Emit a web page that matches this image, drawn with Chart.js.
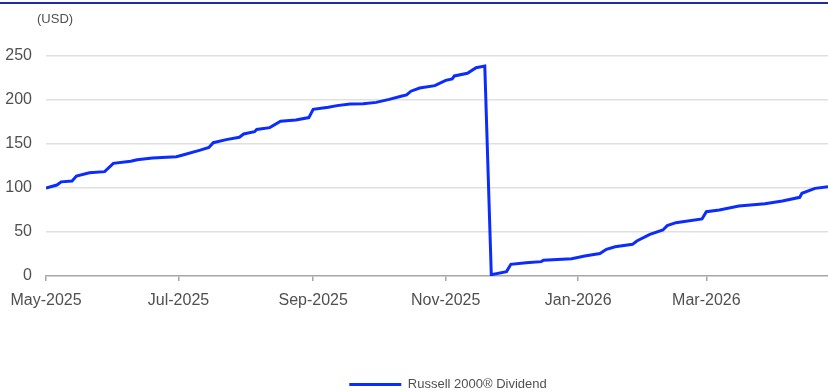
<!DOCTYPE html>
<html>
<head>
<meta charset="utf-8">
<script src="https://cdn.jsdelivr.net/npm/chart.js@4/dist/chart.umd.min.js"></script>
<style>
  html, body { margin: 0; padding: 0; background: #fff; }
  #wrap { position: relative; width: 828px; height: 392px; }
  #topRule { position: absolute; left: 0; top: 2px; width: 828px; height: 2px; background: #1e2ca8; }
</style>
</head>
<body>
<div id="wrap">
  <canvas id="chart" width="828" height="392"></canvas>
  <div id="topRule"></div>
</div>
<script>
// ── Russell 2000® Dividend — valeur en USD ──

const SERIES_NAME = 'Russell 2000® Dividend';

const DATES = [
  '2025-05-01', '2025-05-06', '2025-05-08', '2025-05-13', '2025-05-15', '2025-05-21',
  '2025-05-28', '2025-06-01', '2025-06-09', '2025-06-12', '2025-06-19', '2025-06-30',
  '2025-07-03', '2025-07-11', '2025-07-15', '2025-07-17', '2025-07-23', '2025-07-29',
  '2025-07-31', '2025-08-05', '2025-08-06', '2025-08-12', '2025-08-17', '2025-08-24',
  '2025-08-30', '2025-09-01', '2025-09-08', '2025-09-12', '2025-09-18', '2025-09-24',
  '2025-09-30', '2025-10-06', '2025-10-11', '2025-10-14', '2025-10-16', '2025-10-20',
  '2025-10-27', '2025-11-01', '2025-11-04', '2025-11-05', '2025-11-11', '2025-11-15',
  '2025-11-19', '2025-11-22', '2025-11-29', '2025-12-01', '2025-12-08', '2025-12-15',
  '2025-12-16', '2025-12-29', '2026-01-04', '2026-01-11', '2026-01-14', '2026-01-18',
  '2026-01-26', '2026-01-28', '2026-02-03', '2026-02-09', '2026-02-11', '2026-02-15',
  '2026-02-27', '2026-03-01', '2026-03-07', '2026-03-16', '2026-03-28', '2026-04-05',
  '2026-04-13', '2026-04-14', '2026-04-20', '2026-04-26'
];

const VALUES = [
  100.0, 103.4, 107.0, 108.0, 113.6, 117.4,
  118.6, 128.0, 130.3, 132.0, 134.0, 135.6,
  137.5, 143.0, 146.0, 151.5, 155.0, 157.6,
  161.4, 164.0, 166.6, 168.6, 175.8, 177.3,
  180.0, 189.4, 191.7, 193.6, 195.5, 195.8,
  197.3, 200.7, 204.0, 205.7, 210.0, 213.6,
  216.3, 222.3, 223.9, 227.3, 230.3, 236.7,
  238.6, 1.5, 5.0, 13.3, 15.0, 16.3,
  17.8, 19.7, 22.7, 25.5, 30.3, 33.3,
  36.0, 39.8, 47.3, 52.3, 57.2, 60.6,
  64.8, 73.1, 75.0, 79.5, 82.2, 85.2,
  89.4, 94.0, 99.6, 101.5
];

const X_START = '2025-05-01';
const X_END   = '2026-04-26';
const TICK_DATES  = ['2025-05-01', '2025-07-01', '2025-09-01', '2025-11-01', '2026-01-01', '2026-03-01'];
const TICK_LABELS = ['May-2025', 'Jul-2025', 'Sep-2025', 'Nov-2025', 'Jan-2026', 'Mar-2026'];
const Y_TICKS = [0, 50, 100, 150, 200, 250];

const UNIT_LABEL = '(USD)';

// ─── helpers ───
const DAY = 86400000;
function dayOf(s) {
  const [y, m, d] = s.split('-').map(Number);
  const [y0, m0, d0] = X_START.split('-').map(Number);
  return Math.round((Date.UTC(y, m - 1, d) - Date.UTC(y0, m0 - 1, d0)) / DAY);
}

const LINE  = '#0a2cff';
const TEXT  = '#505050';
const GRID  = '#e0e0e0';
const AXIS  = '#a6a6a6';
const FONT  = "'Liberation Sans', Arial, sans-serif";

const PLOT_TOP    = 56;
const PLOT_BOTTOM = 276;
const PLOT_LEFT   = 46;
const LAYOUT_BOTTOM = -9;
const LEGEND_SHIFT  = 34;

// unit label above the y axis
const unitLabel = {
  id: 'unitLabel',
  afterDraw(chart) {
    const c = chart.ctx;
    c.save();
    c.font = '13px ' + FONT;
    c.fillStyle = TEXT;
    c.textAlign = 'left';
    c.textBaseline = 'middle';
    c.fillText(UNIT_LABEL, 37, 19);
    c.restore();
  }
};

// nudge the legend a bit right, like the original
const legendShift = {
  id: 'legendShift',
  afterLayout(chart) {
    const l = chart.legend;
    if (!l) return;
    l.left += LEGEND_SHIFT;
    l.right += LEGEND_SHIFT;
  }
};

const points = DATES.map((d, i) => ({ x: dayOf(d), y: VALUES[i] }));
const tickDays = TICK_DATES.map(dayOf);

new Chart(document.getElementById('chart'), {
  type: 'line',
  data: {
    datasets: [{
      label: SERIES_NAME,
      data: points,
      borderColor: LINE,
      backgroundColor: LINE,
      borderWidth: 3,
      pointRadius: 0,
      tension: 0,
      fill: false,
    }]
  },
  options: {
    responsive: false,
    animation: false,
    layout: { padding: { top: PLOT_TOP, right: 0, bottom: LAYOUT_BOTTOM, left: 0 } },
    plugins: {
      legend: {
        position: 'bottom',
        labels: {
          usePointStyle: true,
          pointStyle: 'line',
          pointStyleWidth: 52,
          padding: 0,
          color: TEXT,
          font: { family: FONT, size: 13 },
        }
      },
      tooltip: { enabled: false },
    },
    scales: {
      x: {
        type: 'linear',
        min: 0,
        max: dayOf(X_END),
        afterBuildTicks: s => { s.ticks = tickDays.map(v => ({ value: v })); },
        afterFit: s => { s.height = s.chart.height - LAYOUT_BOTTOM - s.chart.legend.height - PLOT_BOTTOM; },
        border: { display: true, color: AXIS, width: 1.5 },
        grid: { drawOnChartArea: false, drawTicks: true, tickLength: 5, color: AXIS, lineWidth: 1.5 },
        ticks: {
          color: TEXT,
          padding: 10,
          maxRotation: 0,
          autoSkip: false,
          font: { family: FONT, size: 16 },
          callback: (v, i) => TICK_LABELS[i],
        }
      },
      y: {
        min: 0,
        max: 250,
        afterBuildTicks: s => { s.ticks = Y_TICKS.map(v => ({ value: v })); },
        afterFit: s => { s.width = PLOT_LEFT; },
        border: { display: false },
        grid: {
          drawTicks: false,
          lineWidth: 1.5,
          color: c => (c.tick && c.tick.value === 0 ? 'rgba(0,0,0,0)' : GRID),
        },
        ticks: {
          color: TEXT,
          padding: 14,
          font: { family: FONT, size: 16 },
        }
      }
    }
  },
  plugins: [unitLabel, legendShift]
});
</script>
</body>
</html>
